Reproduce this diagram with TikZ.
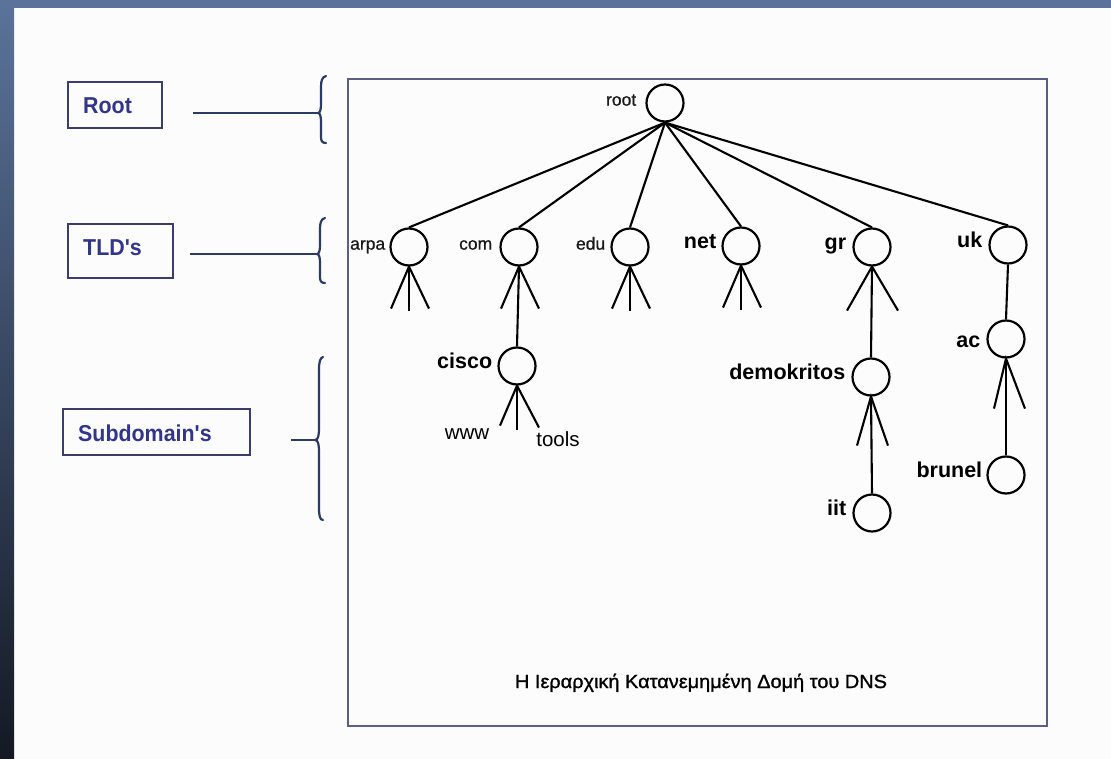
\documentclass[tikz,border=0pt]{standalone}
\usepackage{fontspec}
\setmainfont{Liberation Sans}
\newfontfamily\plainapos{Liberation Sans}[Ligatures=TeXOff]
\newfontfamily\capfont{Liberation Sans}[FakeBold=1.2]
\newfontfamily\smallfont{Liberation Sans}[FakeBold=0.8]
\usepackage{graphicx}
\definecolor{navyc}{HTML}{2C3A66}
\definecolor{boxc}{HTML}{3A3C70}
\definecolor{navytext}{HTML}{33358A}
\definecolor{framec}{HTML}{5A5E88}
\definecolor{stripc}{HTML}{5B739A}
\definecolor{stripm}{HTML}{37465F}
\definecolor{stripb}{HTML}{141923}
\begin{document}
\begin{tikzpicture}[x=1pt,y=-1pt,
  dnode/.style={circle,draw=black,line width=2.2pt,minimum size=37pt,inner sep=0pt},
  edge/.style={line width=2.1pt,draw=black},
  smalllbl/.style={font=\smallfont\fontsize{17.5}{20}\selectfont,text=black!90,inner sep=0pt},
  boldlbl/.style={font=\fontsize{21.5}{24}\selectfont\bfseries,inner sep=0pt},
  plainlbl/.style={font=\fontsize{20.5}{24}\selectfont,inner sep=0pt},
  lbox/.style={draw=boxc,line width=1.3pt,inner sep=0pt},
  ltext/.style={font=\plainapos\fontsize{23}{26}\selectfont\bfseries,text=navytext,inner sep=0pt},
  navyline/.style={draw=navyc,line width=2.2pt},
  bracec/.style={draw=navyc,line width=2.2pt,line cap=round},
]
\useasboundingbox (0,0) rectangle (1111,759);
\fill[white!98!gray] (0,0) rectangle (1111,759);
\shade[top color=stripc,bottom color=stripb,middle color=stripm] (0,0) rectangle (14,759);
\fill[stripc] (0,0) rectangle (1111,8);

% left labels
\node[lbox,minimum width=94pt,minimum height=46pt] (rootbox) at (115,105) {};
\node[ltext,anchor=base west] (roottext) at (83,114) {\scalebox{0.93}[1]{Root}};
\node[lbox,minimum width=105pt,minimum height=54pt] (tldbox) at (120.5,251) {};
\node[ltext,anchor=base west] (tldtext) at (83,256) {\scalebox{0.93}[1]{TLD's}};
\node[lbox,minimum width=187pt,minimum height=46pt] (subbox) at (156.5,432) {};
\node[ltext,anchor=base west] (subtext) at (78,441) {\scalebox{0.93}[1]{Subdomain's}};

% connector lines and braces
\coordinate (rootLs) at (193,113);
\coordinate (rootTip) at (318,113);
\draw[navyline] (rootLs) -- (rootTip);
\draw[bracec] (326,76) .. controls (322,77) and (321,81) .. (321,87) -- (321,104)
  .. controls (321,110) and (320,113) .. (rootTip)
  .. controls (320,113) and (321,116) .. (321,122) -- (321,137)
  .. controls (321,141) and (322,143) .. (326,143);

\coordinate (tldLs) at (190,254);
\coordinate (tldTip) at (317,254);
\draw[navyline] (tldLs) -- (tldTip);
\draw[bracec] (325,218) .. controls (321,219) and (320,223) .. (320,229) -- (320,245)
  .. controls (320,251) and (319,254) .. (tldTip)
  .. controls (319,254) and (320,257) .. (320,263) -- (320,277)
  .. controls (320,281) and (321,283) .. (325,283);

\coordinate (subLs) at (291,440);
\coordinate (subTip) at (315,440);
\draw[navyline] (subLs) -- (subTip);
\draw[bracec] (323,357) .. controls (320,358) and (319,362) .. (319,370) -- (319,428)
  .. controls (319,436) and (318,440) .. (subTip)
  .. controls (318,440) and (319,444) .. (319,452) -- (319,508)
  .. controls (319,516) and (320,520) .. (323,520);

% frame
\node[draw=framec,line width=1.6pt,minimum width=699pt,minimum height=647pt,inner sep=0pt] (frame) at (697.5,402.5) {};

% tree nodes
\node[dnode] (root) at (665,103) {};
\node[dnode] (arpa) at (409,247) {};
\node[dnode] (com) at (519,247) {};
\node[dnode] (edu) at (630,247) {};
\node[dnode] (net) at (741,246) {};
\node[dnode] (gr) at (872,247) {};
\node[dnode] (uk) at (1008,245) {};
\node[dnode] (cisco) at (517,366) {};
\node[dnode] (demo) at (871,377) {};
\node[dnode] (iit) at (872,513) {};
\node[dnode] (ac) at (1006,339) {};
\node[dnode] (brunel) at (1006,475) {};

% labels
\node[smalllbl,anchor=mid east] (rootl) at ([xshift=-9pt]root.west) {root};
\node[smalllbl,anchor=mid east] (arpal) at ([xshift=-4pt]arpa.west) {arpa};
\node[smalllbl,anchor=mid east] (coml) at ([xshift=-7pt]com.west) {com};
\node[smalllbl,anchor=mid east] (edul) at ([xshift=-5pt]edu.west) {edu};
\node[boldlbl,anchor=mid east] (netl) at ([xshift=-5pt]net.west) {net};
\node[boldlbl,anchor=mid east] (grl) at ([xshift=-6pt]gr.west) {gr};
\node[boldlbl,anchor=mid east] (ukl) at ([xshift=-6pt]uk.west) {uk};
\node[boldlbl,anchor=mid east] (ciscol) at ([xshift=-5pt]cisco.west) {cisco};
\node[boldlbl,anchor=mid east] (demol) at ([xshift=-6pt]demo.west) {demokritos};
\node[boldlbl,anchor=mid east] (iitl) at ([xshift=-6pt]iit.west) {iit};
\node[boldlbl,anchor=mid east] (acl) at ([shift={(-6pt,6)}]ac.west) {ac};
\node[boldlbl,anchor=mid east] (brunell) at ([xshift=-4pt]brunel.west) {brunel};
\node[plainlbl,anchor=mid] (www) at (467,437) {www};
\node[plainlbl,anchor=mid] (tools) at (558,444) {tools};

% edges from root
\foreach \t in {arpa,com,edu,net,gr,uk}
  \draw[edge] (root.south) -- (\t.north);

% legs
\foreach \n in {arpa,com,edu,net}{
  \coordinate (\n L) at ([shift={(-18,42)}]\n.south);
  \coordinate (\n R) at ([shift={(20,42)}]\n.south);
  \draw[edge] (\n L) -- (\n.south) -- (\n R);
}
\foreach \n in {arpa,edu,net}{
  \coordinate (\n M) at ([shift={(0,44)}]\n.south);
  \draw[edge] (\n.south) -- (\n M);
}
\draw[edge] (com.south) -- (cisco.north);
\coordinate (grL) at ([shift={(-25,44)}]gr.south);
\coordinate (grR) at ([shift={(26,44)}]gr.south);
\draw[edge] (grL) -- (gr.south) -- (grR);
\draw[edge] (gr.south) -- (demo.north);
\coordinate (demoL) at ([shift={(-14,49)}]demo.south);
\coordinate (demoR) at ([shift={(17,49)}]demo.south);
\draw[edge] (demoL) -- (demo.south) -- (demoR);
\draw[edge] (demo.south) -- (iit.north);
\draw[edge] (uk.south) -- (ac.north);
\coordinate (acL) at ([shift={(-12,50)}]ac.south);
\coordinate (acR) at ([shift={(19,50)}]ac.south);
\draw[edge] (acL) -- (ac.south) -- (acR);
\draw[edge] (ac.south) -- (brunel.north);
\coordinate (ciscoL) at ([shift={(-17,40)}]cisco.south);
\coordinate (ciscoM) at ([shift={(0,44)}]cisco.south);
\coordinate (ciscoR) at ([shift={(22,42)}]cisco.south);
\draw[edge] (ciscoL) -- (cisco.south) -- (ciscoR);
\draw[edge] (cisco.south) -- (ciscoM);

% caption
\node[anchor=base,inner sep=0pt] (caption) at (701,688)
  {\resizebox{372pt}{\height}{\capfont\fontsize{19}{21}\selectfont Η Ιεραρχική Κατανεμημένη Δομή του DNS}};
\end{tikzpicture}
\end{document}
